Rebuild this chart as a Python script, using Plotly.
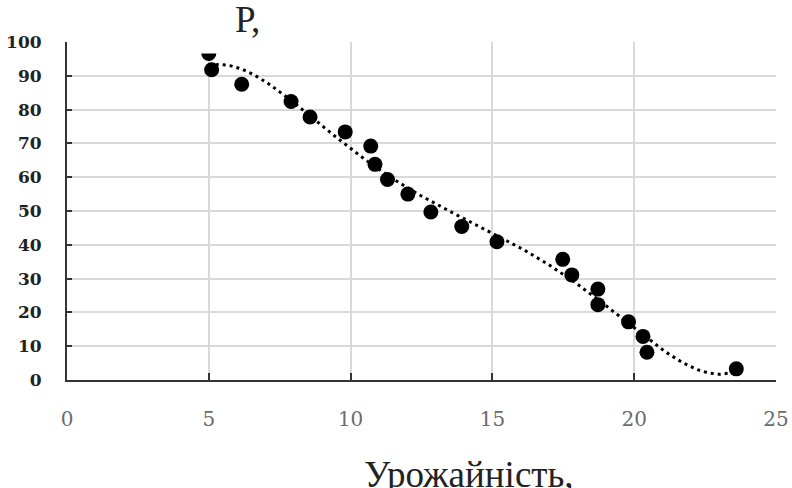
import numpy as np
import plotly.graph_objects as go

# Data
yield_x = [5.0, 5.10, 6.16, 7.90, 8.57, 9.81, 10.71, 10.86, 11.30, 12.02, 12.83,
           13.92, 15.16, 17.48, 17.80, 18.72, 18.72, 19.80, 20.31, 20.45, 23.60]
p_y = [96.6, 91.8, 87.5, 82.4, 77.8, 73.4, 69.2, 63.8, 59.3, 55.0, 49.7,
       45.4, 40.9, 35.7, 31.1, 26.9, 22.3, 17.2, 12.9, 8.2, 3.3]

x_ticks = [0, 5, 10, 15, 20, 25]
y_ticks = [0, 10, 20, 30, 40, 50, 60, 70, 80, 90, 100]
title_text = "Р,"
x_title_text = "Урожайність,"

# Polynomial trendline fitted to the data
coef = np.polyfit(yield_x, p_y, 5)
tx = np.linspace(min(yield_x), max(yield_x), 300)
ty = np.polyval(coef, tx)

fig = go.Figure()
fig.add_trace(go.Scatter(
    x=tx, y=ty, mode="lines",
    line=dict(color="black", width=3, dash="3px,4px"),
    hoverinfo="skip", showlegend=False,
))
fig.add_trace(go.Scatter(
    x=yield_x, y=p_y, mode="markers",
    marker=dict(color="black", size=15),
    showlegend=False, cliponaxis=False,
))

fig.update_layout(
    template="none",
    width=792, height=488,
    margin=dict(l=67, r=16, t=41.5, b=107.5, autoexpand=False),
    paper_bgcolor="white", plot_bgcolor="white",
    showlegend=False,
)
fig.update_xaxes(
    range=[0, 25], tickvals=x_ticks, ticktext=[str(v) for v in x_ticks],
    automargin=False,
    showgrid=True, gridcolor="#d9d9d9", gridwidth=1.5,
    showline=True, linecolor="#333333", linewidth=2,
    ticks="inside", ticklen=7, tickcolor="#333333", tickwidth=1.5,
    tickfont=dict(family="DejaVu Serif", size=20, color="#6b6b6b"),
    ticklabelstandoff=20, zeroline=False,
)
fig.update_yaxes(
    range=[0, 100], tickvals=y_ticks, ticktext=[str(v) for v in y_ticks],
    automargin=False,
    showgrid=True, gridcolor="#d9d9d9", gridwidth=1.5,
    showline=True, linecolor="#333333", linewidth=2,
    ticks="inside", ticklen=5, tickcolor="#333333", tickwidth=1.5,
    tickfont=dict(family="DejaVu Serif", size=17, color="#222222", weight="bold"),
    ticklabelstandoff=20, zeroline=False,
)

# White title box covering the top of the plot area
fig.add_shape(type="rect", xref="paper", yref="paper",
              x0=0.103, x1=0.316, y0=0.966, y1=1.2,
              fillcolor="white", line=dict(width=0), layer="above")
fig.add_annotation(text=title_text, xref="paper", yref="paper",
                   x=0.255, y=1.066, xanchor="center", yanchor="middle",
                   showarrow=False,
                   font=dict(family="Liberation Serif", size=37, color="#222222"))
fig.add_annotation(text=x_title_text, xref="paper", yref="paper",
                   x=0.567, y=-0.279, xanchor="center", yanchor="middle",
                   showarrow=False,
                   font=dict(family="Liberation Serif", size=37, color="#222222"))

fig.write_html("out.html",
               config={"displayModeBar": False},
               post_script="document.body.style.margin='0';document.body.style.overflow='hidden';")
